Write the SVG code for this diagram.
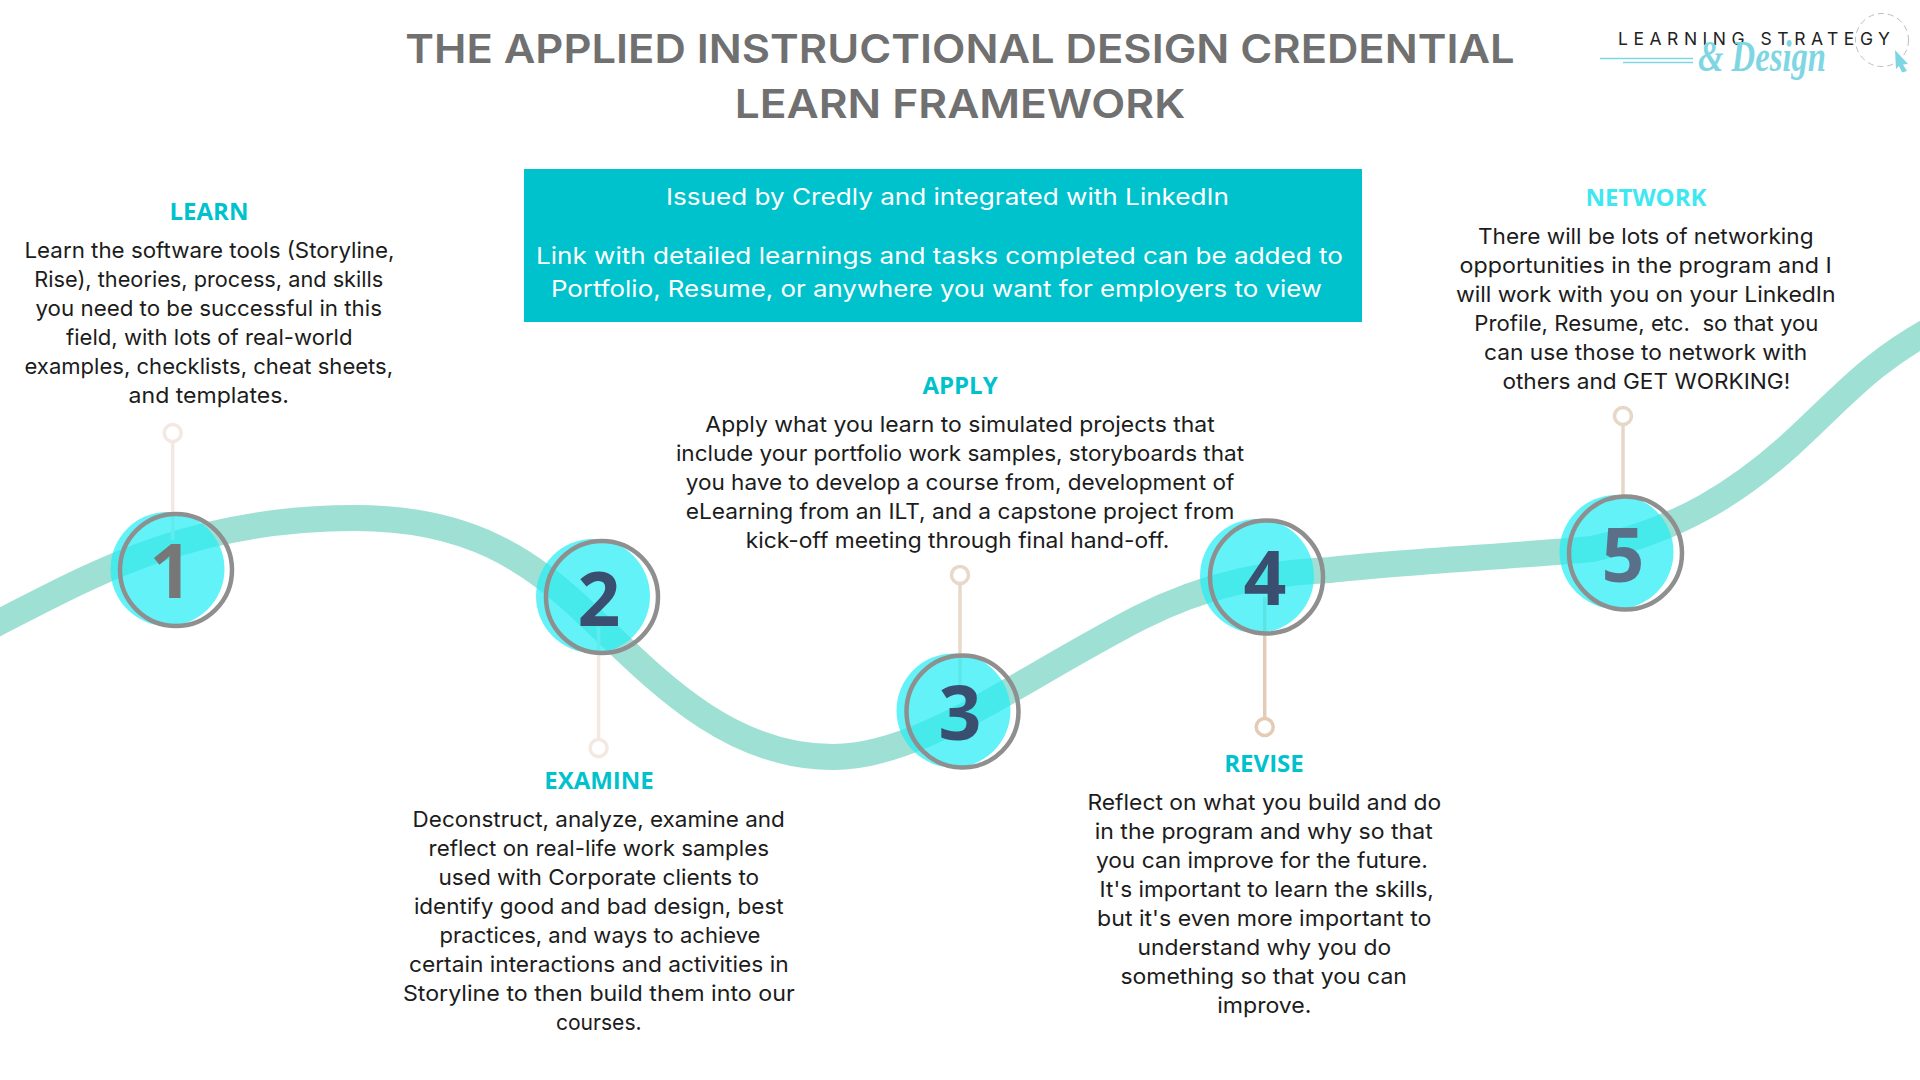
<svg xmlns="http://www.w3.org/2000/svg" width="1920" height="1080" viewBox="0 0 1920 1080">
<style>
text{font-family:"Inter","Noto Sans",sans-serif}
.t{font-size:40px;font-weight:600;fill:#707070}
.b{font-size:22px;fill:#1c1c1c}
.w{font-size:23px;fill:#fff}
.h{font-family:"Open Sans",sans-serif;font-size:24px;font-weight:700;fill:#00c2cd;text-anchor:middle}
.n{font-family:"Open Sans",sans-serif;font-size:75px;font-weight:700;text-anchor:middle;fill:#3a4f6f}
.f{fill:#25edf4;fill-opacity:.72}
.r{fill:none;stroke:#8f8f8f;stroke-width:4.5}
.s{fill:none;stroke-width:3.5}
.p{fill:#fff;stroke-width:3.5}
</style>
<rect width="1920" height="1080" fill="#fff"/>
<g id="title">
<text class="t" x="405.3" y="62.7" textLength="1109.4" lengthAdjust="spacingAndGlyphs">THE APPLIED INSTRUCTIONAL DESIGN CREDENTIAL</text>
<text class="t" x="734.7" y="117.8" textLength="450.6" lengthAdjust="spacingAndGlyphs">LEARN FRAMEWORK</text>
</g>
<g id="logo">
<path d="M1600 58.5H1693M1623 62.5H1693" fill="none" stroke="#7fd6e3" stroke-width="1.5"/>
<circle cx="1882" cy="40" r="26.5" fill="none" stroke="#bdbdbd" stroke-width="1" stroke-dasharray="6 4"/>
<text x="1618" y="45" font-size="17.5" fill="#222" textLength="272" lengthAdjust="spacing">LEARNING STRATEGY</text>
<text x="1698" y="71" textLength="128" lengthAdjust="spacingAndGlyphs" style="font-family:'Liberation Serif',serif;font-style:italic;font-size:44px;font-weight:700;fill:#7fd6e3">&amp; Design</text>
<path d="M1895 50L1908 64L1903 64.500L1907 71L1902 72.500L1899 66L1896 69Z" fill="#7fd6e3"/>
</g>
<g id="badge-box">
<rect x="524" y="169" width="838" height="153" fill="#00c2cd"/>
<text class="w" x="666" y="205" textLength="563" lengthAdjust="spacingAndGlyphs">Issued by Credly and integrated with LinkedIn</text>
<text class="w" x="536" y="264" textLength="807" lengthAdjust="spacingAndGlyphs">Link with detailed learnings and tasks completed can be added to</text>
<text class="w" x="551" y="297" textLength="771" lengthAdjust="spacingAndGlyphs">Portfolio, Resume, or anywhere you want for employers to view</text>
</g>
<g id="connectors">
<path id="ribbon" d="M-20 632C80 582 180 518 355 518C470 518 530 560 590 617C660 684 730 757 833 757C920 757 1010 685 1139 618C1210 582 1270 573 1330 570C1400 562 1500 557 1592 549C1680 530 1740 490 1790 445C1840 400 1870 360 1945 322" fill="none" stroke="#9fe0d5" stroke-width="26"/>
<path class="s" stroke="#f3e9e2" d="M172.700 442V540"/>
<circle class="p" stroke="#f3e9e2" cx="172.700" cy="433" r="8.500"/>
<path class="s" stroke="#f3e9e2" d="M598.600 627V739"/>
<circle class="p" stroke="#f3e9e2" cx="598.600" cy="748" r="8.500"/>
<path class="s" stroke="#e8d8ca" d="M960 584V687"/>
<circle class="p" stroke="#e8d8ca" cx="960" cy="575" r="8.500"/>
<path class="s" stroke="#e3cbb6" d="M1264.700 597V718"/>
<circle class="p" stroke="#e3cbb6" cx="1264.700" cy="727" r="8.500"/>
<path class="s" stroke="#e6d7c8" d="M1623 425V495"/>
<circle class="p" stroke="#e6d7c8" cx="1623" cy="416" r="8.500"/>
</g>
<g id="step-1">
<circle class="f" cx="167.500" cy="569" r="57"/><circle class="r" cx="176" cy="570" r="56"/>
<text class="n" x="171" y="598" style="fill:#777">1</text>
<text class="h" x="209" y="220">LEARN</text>
<text class="b" x="24.500" y="258" textLength="370" lengthAdjust="spacingAndGlyphs">Learn the software tools (Storyline,</text>
<text class="b" x="34.300" y="287" textLength="349" lengthAdjust="spacingAndGlyphs">Rise), theories, process, and skills</text>
<text class="b" x="35.500" y="316" textLength="346.500" lengthAdjust="spacingAndGlyphs">you need to be successful in this</text>
<text class="b" x="66" y="345" textLength="286.500" lengthAdjust="spacingAndGlyphs">field, with lots of real-world</text>
<text class="b" x="24.500" y="374" textLength="368.600" lengthAdjust="spacingAndGlyphs">examples, checklists, cheat sheets,</text>
<text class="b" x="128.600" y="403" textLength="160.400" lengthAdjust="spacingAndGlyphs">and templates.</text>
</g>
<g id="step-2">
<circle class="f" cx="593" cy="596" r="57"/><circle class="r" cx="602" cy="597" r="56"/>
<text class="n" x="599" y="626">2</text>
<text class="h" x="599" y="789">EXAMINE</text>
<text class="b" x="412.600" y="827" textLength="372.200" lengthAdjust="spacingAndGlyphs">Deconstruct, analyze, examine and</text>
<text class="b" x="428.600" y="856" textLength="340.400" lengthAdjust="spacingAndGlyphs">reflect on real-life work samples</text>
<text class="b" x="438.400" y="885" textLength="320.800" lengthAdjust="spacingAndGlyphs">used with Corporate clients to</text>
<text class="b" x="413.900" y="914" textLength="369.800" lengthAdjust="spacingAndGlyphs">identify good and bad design, best</text>
<text class="b" x="439.600" y="943" textLength="320.800" lengthAdjust="spacingAndGlyphs">practices, and ways to achieve</text>
<text class="b" x="409" y="972" textLength="379.600" lengthAdjust="spacingAndGlyphs">certain interactions and activities in</text>
<text class="b" x="402.900" y="1001" textLength="391.800" lengthAdjust="spacingAndGlyphs">Storyline to then build them into our</text>
<text class="b" x="555.900" y="1030" textLength="85.700" lengthAdjust="spacingAndGlyphs">courses.</text>
</g>
<g id="step-3">
<circle class="f" cx="953.500" cy="710.500" r="57"/><circle class="r" cx="962.500" cy="711.500" r="56"/>
<text class="n" x="960" y="740">3</text>
<text class="h" x="960" y="394">APPLY</text>
<text class="b" x="705.300" y="432" textLength="509.400" lengthAdjust="spacingAndGlyphs">Apply what you learn to simulated projects that</text>
<text class="b" x="675.900" y="461" textLength="568.200" lengthAdjust="spacingAndGlyphs">include your portfolio work samples, storyboards that</text>
<text class="b" x="685.700" y="490" textLength="548.600" lengthAdjust="spacingAndGlyphs">you have to develop a course from, development of</text>
<text class="b" x="685.700" y="519" textLength="548.600" lengthAdjust="spacingAndGlyphs">eLearning from an ILT, and a capstone project from</text>
<text class="b" x="745.700" y="548" textLength="423.700" lengthAdjust="spacingAndGlyphs">kick-off meeting through final hand-off.</text>
</g>
<g id="step-4">
<circle class="f" cx="1257" cy="576" r="57"/><circle class="r" cx="1266.500" cy="577" r="56.500"/>
<text class="n" x="1265" y="605">4</text>
<text class="h" x="1264" y="772">REVISE</text>
<text class="b" x="1087.400" y="810" textLength="353.900" lengthAdjust="spacingAndGlyphs">Reflect on what you build and do</text>
<text class="b" x="1094.700" y="839" textLength="338" lengthAdjust="spacingAndGlyphs">in the program and why so that</text>
<text class="b" x="1095.900" y="868" textLength="331.800" lengthAdjust="spacingAndGlyphs">you can improve for the future.</text>
<text class="b" x="1099.600" y="897" textLength="334.300" lengthAdjust="spacingAndGlyphs">It's important to learn the skills,</text>
<text class="b" x="1097.100" y="926" textLength="334.300" lengthAdjust="spacingAndGlyphs">but it's even more important to</text>
<text class="b" x="1137.600" y="955" textLength="253.500" lengthAdjust="spacingAndGlyphs">understand why you do</text>
<text class="b" x="1120.400" y="984" textLength="286.500" lengthAdjust="spacingAndGlyphs">something so that you can</text>
<text class="b" x="1217.200" y="1013" textLength="94.300" lengthAdjust="spacingAndGlyphs">improve.</text>
</g>
<g id="step-5">
<circle class="f" cx="1616.500" cy="552" r="57"/><circle class="r" cx="1625.500" cy="553" r="56.500"/>
<text class="n" x="1623" y="582" style="fill:#5a7088">5</text>
<text class="h" x="1646" y="206" style="fill:#3fe8f0">NETWORK</text>
<text class="b" x="1478" y="244" textLength="335.500" lengthAdjust="spacingAndGlyphs">There will be lots of networking</text>
<text class="b" x="1459.600" y="273" textLength="372.200" lengthAdjust="spacingAndGlyphs">opportunities in the program and I</text>
<text class="b" x="1455.900" y="302" textLength="379.600" lengthAdjust="spacingAndGlyphs">will work with you on your LinkedIn</text>
<text class="b" x="1474.300" y="331" textLength="344.100" lengthAdjust="spacingAndGlyphs" xml:space="preserve">Profile, Resume, etc.  so that you</text>
<text class="b" x="1484" y="360" textLength="323.300" lengthAdjust="spacingAndGlyphs">can use those to network with</text>
<text class="b" x="1502.400" y="389" textLength="287.800" lengthAdjust="spacingAndGlyphs">others and GET WORKING!</text>
</g>
</svg>
